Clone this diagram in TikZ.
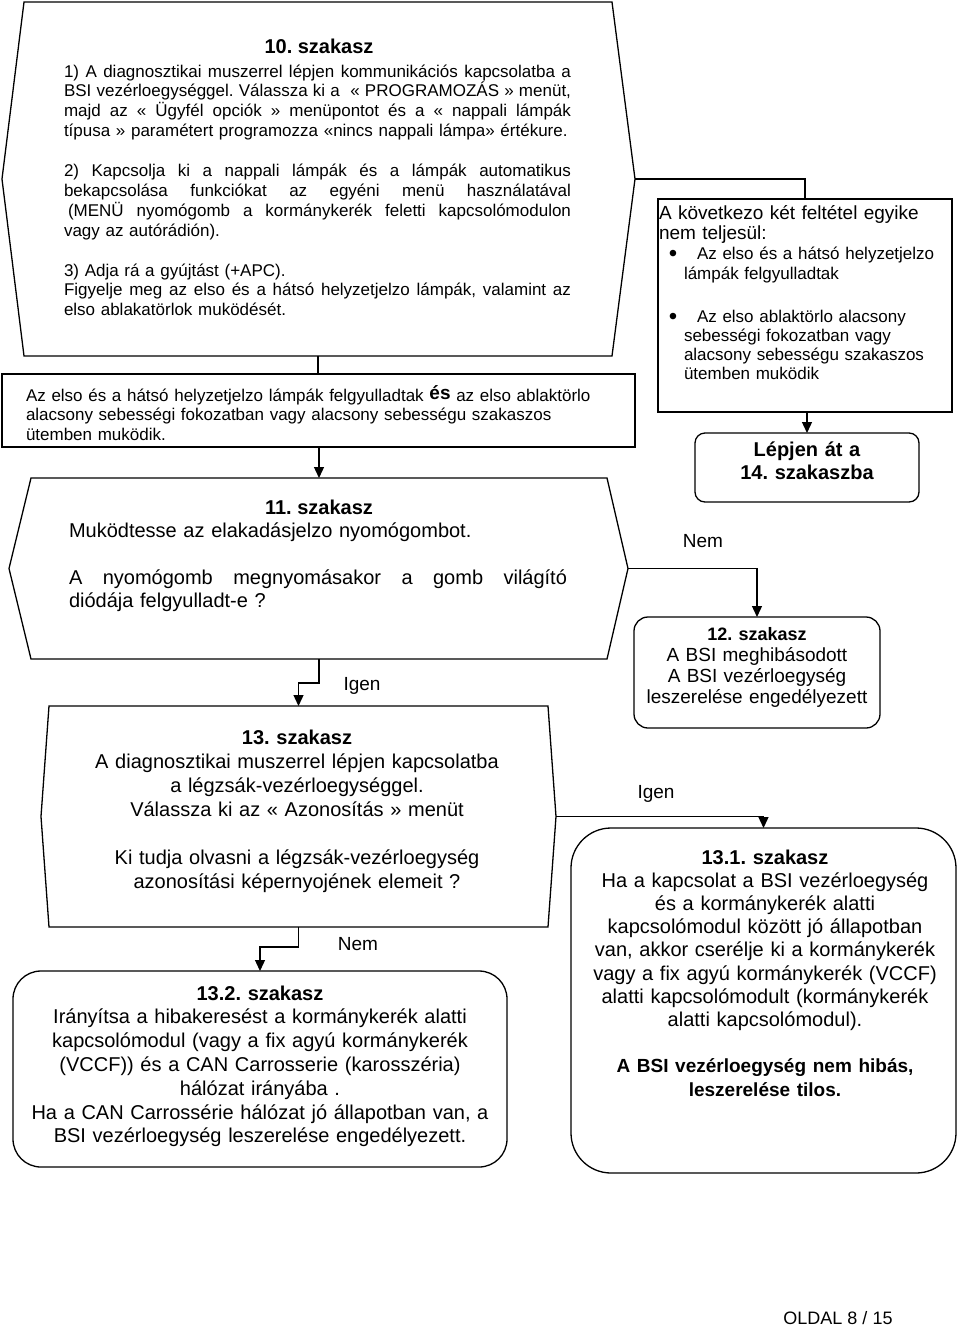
\documentclass[tikz,border=0pt]{standalone}
\usepackage{fontspec}
\setmainfont{Liberation Sans}
\usetikzlibrary{arrows.meta,calc}
\newcommand{\jst}[2]{{\spaceskip=0.278em plus 1fil\relax\xspaceskip=0pt\relax\makebox[#1][s]{#2}}}
\frenchspacing
\begin{document}
\frenchspacing
\begin{tikzpicture}[x=1pt,y=-1pt,line width=1.3pt,
  every node/.style={inner sep=0pt,outer sep=0pt},
  hexbody/.style={rectangle,draw=none},
  sqbox/.style={rectangle,draw},
  rbox/.style={rectangle,draw,rounded corners=#1},
  rbox/.default=12pt,
  arr/.style={-{Triangle[length=11pt,width=10pt]}},
  f17/.style={font=\fontsize{17pt}{19.9pt}\selectfont\frenchspacing},
  f19/.style={font=\fontsize{19pt}{20.5pt}\selectfont\frenchspacing},
  f20/.style={font=\fontsize{20pt}{23.6pt}\selectfont\frenchspacing},
  blt/.style={font=\fontsize{24pt}{24pt}\selectfont,anchor=base},
  lbl/.style={font=\fontsize{19pt}{22pt}\selectfont,anchor=base},
  ttl/.style={font=\bfseries\fontsize{20pt}{24pt}\selectfont\frenchspacing,anchor=base}
]
\useasboundingbox (0,0) rectangle (960,1328);

% ---------- step 10 hexagon
\node[hexbody,minimum width=588pt,minimum height=354pt] (h10) at (318,179) {};
\coordinate (h10w) at ($(h10.west)+(-22,0)$);
\coordinate (h10e) at ($(h10.east)+(23,0)$);
\draw (h10.north west) -- (h10w) -- (h10.south west) -- (h10.south east) -- (h10e) -- (h10.north east) -- cycle;
\node[ttl] (t10h) at (319,53) {10. szakasz};
\node[f17,anchor=base west,text width=507pt,align=left] (t10) at (64,77) {%
\jst{507pt}{1) A diagnosztikai muszerrel lépjen kommunikációs kapcsolatba a}\\
\jst{507pt}{BSI vezérloegységgel. Válassza ki a \ « PROGRAMOZÁS » menüt,}\\
\jst{507pt}{majd az « Ügyfél opciók » menüpontot és a « nappali lámpák}\\
típusa » paramétert programozza «nincs nappali lámpa» értékure.\\[19.9pt]
\jst{507pt}{2) Kapcsolja ki a nappali lámpák és a lámpák automatikus}\\
\jst{507pt}{bekapcsolása funkciókat az egyéni menü használatával}\\
\jst{507pt}{\hspace*{4pt}(MENÜ nyomógomb a kormánykerék feletti kapcsolómodulon}\\
vagy az autórádión).\\[19.9pt]
3) Adja rá a gyújtást (+APC).\\
\jst{507pt}{Figyelje meg az elso és a hátsó helyzetjelzo lámpák, valamint az}\\
elso ablakatörlok muködését.};

% ---------- condition box
\node[sqbox,minimum width=633pt,minimum height=73pt] (bB) at (318.5,410.5) {};
\node[f17,anchor=base west,text width=600pt,align=left] (tB) at (26,401) {%
Az elso és a hátsó helyzetjelzo lámpák felgyulladtak \raisebox{2pt}{\bfseries\fontsize{19pt}{20pt}\selectfont és} az elso ablaktörlo\\
alacsony sebességi fokozatban vagy alacsony sebességu szakaszos\\
ütemben muködik.};

% ---------- step 11 hexagon
\node[hexbody,minimum width=576pt,minimum height=181pt] (h11) at (319,568.5) {};
\coordinate (h11w) at ($(h11.west)+(-22,0)$);
\coordinate (h11e) at ($(h11.east)+(21,0)$);
\draw (h11.north west) -- (h11w) -- (h11.south west) -- (h11.south east) -- (h11e) -- (h11.north east) -- cycle;
\node[ttl] (t11h) at (319,514) {11. szakasz};
\node[f20,anchor=base west,text width=498pt,align=left] (t11) at (69,537) {%
Muködtesse az elakadásjelzo nyomógombot.\\[23.6pt]
\jst{498pt}{A nyomógomb megnyomásakor a gomb világító}\\
diódája felgyulladt-e ?};

% ---------- right top box
\node[sqbox,minimum width=294pt,minimum height=213pt] (bC) at (805,305.5) {};
\node[f19,anchor=base west,text width=290pt,align=left] (tC) at (659,219) {%
A következo két feltétel egyike\\nem teljesül:};
\node[blt] (bu1) at (673,261) {\textbullet};
\node[f17,anchor=base west,text width=265pt,align=left,font=\fontsize{17pt}{20.5pt}\selectfont] (tC1) at (684,259) {%
\hspace*{13pt}Az elso és a hátsó helyzetjelzo\\lámpák felgyulladtak};
\node[blt] (bu2) at (673,324) {\textbullet};
\node[f17,anchor=base west,text width=265pt,align=left,font=\fontsize{17pt}{19.1pt}\selectfont] (tC2) at (684,322) {%
\hspace*{13pt}Az elso ablaktörlo alacsony\\sebességi fokozatban vagy\\alacsony sebességu szakaszos\\ütemben muködik};

% ---------- go to 14
\node[rbox=10pt,minimum width=224pt,minimum height=69pt] (bL) at (807,467.5) {};
\node[anchor=base,text width=220pt,align=center,font=\bfseries\fontsize{20pt}{23pt}\selectfont\frenchspacing] (tL) at (807,456) {Lépjen át a\\14. szakaszba};

% ---------- step 12
\node[rbox=14pt,minimum width=246pt,minimum height=111pt] (b12) at (757,672.5) {};
\node[anchor=base,text width=240pt,align=center,font=\fontsize{19pt}{21.3pt}\selectfont\frenchspacing] (t12) at (757,640) {%
{\bfseries\fontsize{18pt}{21.3pt}\selectfont 12. szakasz}\\A BSI meghibásodott\\A BSI vezérloegység\\leszerelése engedélyezett};

% ---------- step 13 hexagon
\node[hexbody,minimum width=499pt,minimum height=221pt] (h13) at (298.5,816.5) {};
\coordinate (h13w) at ($(h13.west)+(-8,0)$);
\coordinate (h13e) at ($(h13.east)+(8,0)$);
\draw (h13.north west) -- (h13w) -- (h13.south west) -- (h13.south east) -- (h13e) -- (h13.north east) -- cycle;
\node[anchor=base,text width=480pt,align=center,font=\fontsize{20pt}{24pt}\selectfont\frenchspacing] (t13) at (297,744) {%
{\bfseries 13. szakasz}\\
A diagnosztikai muszerrel lépjen kapcsolatba\\
a légzsák-vezérloegységgel.\\
Válassza ki az « Azonosítás » menüt\\[24pt]
Ki tudja olvasni a légzsák-vezérloegység\\
azonosítási képernyojének elemeit ?};

% ---------- step 13.1
\node[rbox=40pt,minimum width=385pt,minimum height=345pt] (b131) at (763.5,1000.5) {};
\node[anchor=base,text width=384pt,align=center,font=\fontsize{20pt}{23.2pt}\selectfont\frenchspacing] (t131) at (765,864) {%
{\bfseries 13.1. szakasz}\\
Ha a kapcsolat a BSI vezérloegység\\
és a kormánykerék alatti\\
kapcsolómodul között jó állapotban\\
van, akkor cserélje ki a kormánykerék\\
vagy a fix agyú kormánykerék (VCCF)\\
alatti kapcsolómodult (kormánykerék\\
alatti kapcsolómodul).\\[23.2pt]
{\bfseries\fontsize{19pt}{23.2pt}\selectfont A BSI vezérloegység nem hibás,}\\
{\bfseries\fontsize{19pt}{23.2pt}\selectfont leszerelése tilos.}};

% ---------- step 13.2
\node[rbox=28pt,minimum width=494pt,minimum height=196pt] (b132) at (260,1069) {};
\node[anchor=base,text width=490pt,align=center,font=\fontsize{20pt}{23.8pt}\selectfont\frenchspacing] (t132) at (260,1000) {%
{\bfseries 13.2. szakasz}\\
Irányítsa a hibakeresést a kormánykerék alatti\\
kapcsolómodul (vagy a fix agyú kormánykerék\\
(VCCF)) és a CAN Carrosserie (karosszéria)\\
hálózat irányába .\\
Ha a CAN Carrossérie hálózat jó állapotban van, a\\
BSI vezérloegység leszerelése engedélyezett.};

% ---------- connectors
\draw (h10.south) -- (h10.south |- bB.north);
\draw[arr] (bB.south -| h11.north) -- (h11.north);
\draw (h10e) -| (bC.north);
\draw[arr] (bC.south -| bL.north) -- (bL.north);
\draw[arr] (h11e) -| (b12.north);
\draw[arr] (h11.south) -- ++(0,24) -| (h13.north);
\draw[arr] (h13e) -| (b131.north);
\draw[arr] (h13.south) -- ++(0,20) -| (b132.north);

% ---------- labels
\node[lbl] (lIgen1) at (362,690) {Igen};
\node[lbl] (lNem1) at (703,547) {Nem};
\node[lbl] (lIgen2) at (656,798) {Igen};
\node[lbl] (lNem2) at (358,950) {Nem};

\node[anchor=base,font=\fontsize{18pt}{20pt}\selectfont] (page) at (838,1324) {OLDAL 8 / 15};
\end{tikzpicture}
\end{document}
